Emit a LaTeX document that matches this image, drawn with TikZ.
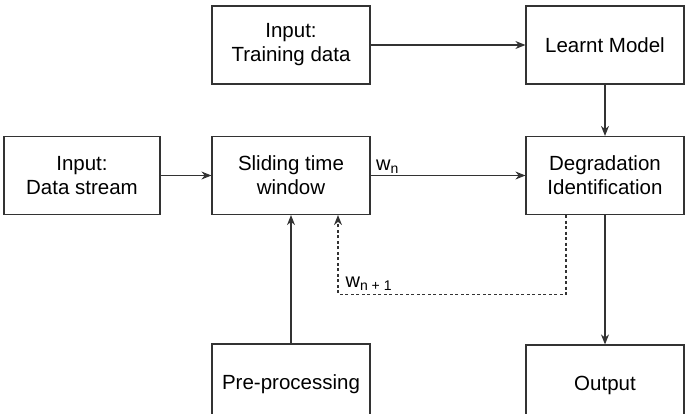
\documentclass[tikz,border=0pt]{standalone}
\usepackage{fontspec}
\setmainfont{Liberation Sans}
\usetikzlibrary{arrows.meta}
\begin{document}
\begin{tikzpicture}[x=1pt, y=-1pt,
    block/.style={shape=rectangle, draw=black!80, line width=1.2pt, minimum width=158pt, minimum height=78pt, align=center, font=\fontsize{20.5}{24}\selectfont},
    flow/.style={draw=black!80, line width=1.2pt, -{Stealth[length=10pt,width=8pt]}},
    lbl/.style={font=\fontsize{20}{24}\selectfont, inner sep=1pt}]

    \clip (0,0) rectangle (693,414);

    \node[block] (train) at (291,45) {Input:\\Training data};
    \node[block] (model) at (605,45) {Learnt Model};
    \node[block, minimum width=156pt] (stream) at (82,175.5) {Input:\\Data stream};
    \node[block] (window) at (291,175.5) {Sliding time\\window};
    \node[block] (degr) at (605,175.5) {Degradation\\Identification};
    \node[block, minimum height=80pt] (prep) at (291,384) {Pre-processing};
    \node[block, minimum height=80pt] (output) at (605,385) {Output};

    \draw[flow] (train) -- (model);
    \draw[flow] (model) -- (degr);
    \draw[flow] (stream) -- (window);
    \draw[flow] (window) -- node[lbl, pos=0, anchor=south west, xshift=4pt] (wn) {w\textsubscript{n}} (degr);
    \draw[flow] (degr) -- (output);
    \draw[flow] (prep) -- (window);
    \draw[flow, dash pattern=on 3pt off 2.5pt] ([xshift=-39pt]degr.south) -- ++(0,79)
        -| node[lbl, pos=0.5, anchor=south west, xshift=6pt, yshift=2pt] (wnext) {w\textsubscript{n + 1}} ([xshift=47pt]window.south);

\end{tikzpicture}
\end{document}
